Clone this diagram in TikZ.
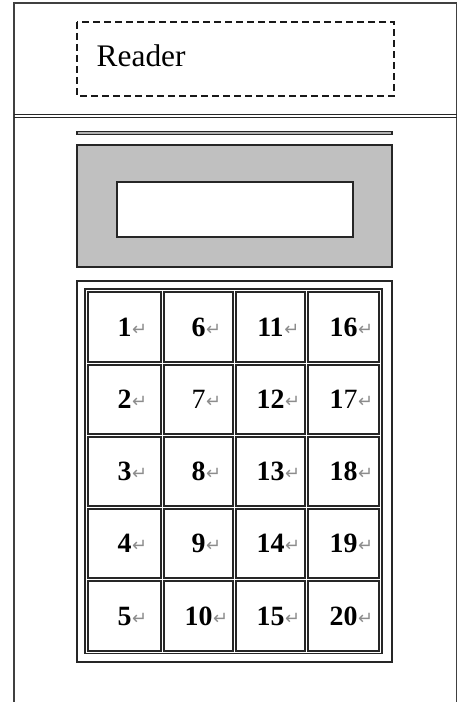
\documentclass[tikz,border=0pt]{standalone}
\usepackage{fontspec}
\setmainfont{Liberation Serif}
\newfontfamily\symfont{DejaVu Sans}
\begin{document}
\begin{tikzpicture}[x=1bp,y=-1bp,
  frameline/.style={draw=black!75,line width=1.5bp},
  plainline/.style={draw=black!85,line width=1.1bp},
  cellbox/.style={draw=black!85,line width=1.1bp,rectangle,inner sep=0pt,outer sep=0pt},
  numlbl/.style={inner sep=0pt,font=\fontsize{28}{30}\selectfont\bfseries},
  retmark/.style={text=black!45,inner sep=0pt,font=\symfont\fontsize{18}{18}\selectfont},
  ]
\useasboundingbox (0,0) rectangle (459,702);
% outer body
\draw[frameline] (14,702) -- (14,3) -- (456.5,3) -- (456.5,702);
\draw[plainline] (14,114.5) -- (456.5,114.5);
\draw[plainline] (14,117.8) -- (456.5,117.8);
% reader area
\draw[draw=black!90,line width=1.3bp,dash pattern=on 7bp off 4bp] (77,22) rectangle (394,96);
\node[anchor=base west,inner sep=0pt,font=\fontsize{31.5}{33}\selectfont] (reader) at (96.5,67) {Reader};
% slot bar
\draw[plainline,fill=black!30] (77,131.5) rectangle (392,134.5);
% display
\draw[plainline,fill={rgb,255:red,192;green,192;blue,192}] (77,145) rectangle (392,267);
\draw[plainline,fill=white] (117,182) rectangle (353,237);
% keypad frames
\draw[plainline] (77,281) rectangle (392,662);
\draw[plainline] (85,289) rectangle (382,653.5);
% keys
\foreach \xa/\xb [count=\c from 0] in {88/161,164/233,236/305,308/379} {
  \foreach \ya/\yb [count=\r from 1] in {292/362,365/434,437/506,509/578,581/651} {
    \pgfmathtruncatemacro\num{\c*5+\r}
    \pgfmathsetmacro\w{\xb-\xa}
    \pgfmathsetmacro\h{\yb-\ya}
    \edef\lbl{\num}
    \ifnum\num=7 \def\lbl{{\mdseries 7}}\fi
    \ifnum\num=17 \def\lbl{1{\mdseries 7}}\fi
    \node[cellbox,minimum width=\w bp,minimum height=\h bp] (c\num) at ({(\xa+\xb)/2},{(\ya+\yb)/2}) {};
    \node[numlbl] (n\num) at (c\num.center) {\lbl};
    \node[retmark,anchor=base west,xshift=0.3bp,yshift=1bp] (r\num) at (n\num.base east) {↵};
  }
}
\end{tikzpicture}
\end{document}
